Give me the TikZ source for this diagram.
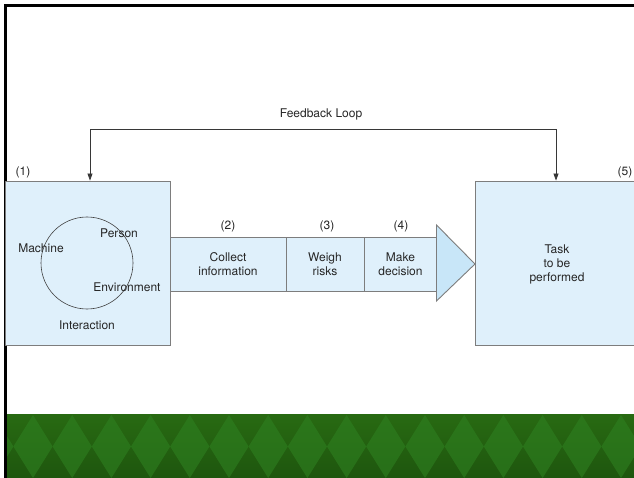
\documentclass[tikz,border=0pt]{standalone}
\usepackage{fontspec}
\setmainfont{TeX Gyre Heros}
\usetikzlibrary{arrows.meta}
\definecolor{boxblue}{RGB}{223,240,251}
\definecolor{tipblue}{RGB}{200,230,248}
\definecolor{edgegray}{RGB}{125,125,125}
\definecolor{linegray}{RGB}{55,55,55}
\definecolor{bandtop}{RGB}{40,106,18}
\definecolor{bandbot}{RGB}{30,86,14}
\definecolor{diamondgreen}{RGB}{46,128,32}
\begin{document}
\begin{tikzpicture}[x=1pt,y=-1pt,
  txt/.style={font=\fontsize{12}{14}\selectfont, text=black!85, inner sep=0pt, align=center},
  bigbox/.style={draw=edgegray, fill=boxblue, line width=0.9pt, rectangle, inner sep=0pt},
  stagebox/.style={draw=edgegray, fill=boxblue, line width=0.9pt, rectangle, inner sep=0pt,
    minimum height=54pt, font=\fontsize{12}{14}\selectfont, text=black!85, align=center},
  fbline/.style={draw=linegray, line width=0.7pt, {Triangle[length=7pt,width=5pt]}-{Triangle[length=7pt,width=5pt]}}]

\useasboundingbox (0,0) rectangle (634,478);
\fill[white] (0,0) rectangle (634,478);

% green band with diamond pattern
\shade[top color=bandtop, bottom color=bandbot] (7,414) rectangle (634,478);
\begin{scope}
  \clip (7,414) rectangle (634,478);
  \foreach \k in {-1,...,16}
    \fill[diamondgreen, opacity=0.6]
      ({33+39.2*\k},415) -- ({52.6+39.2*\k},446.5) -- ({33+39.2*\k},478) -- ({13.4+39.2*\k},446.5) -- cycle;
\end{scope}

% frame
\draw[line width=3pt] (5.5,478) -- (5.5,5.5) -- (634,5.5);

% interaction box
\node[bigbox, minimum width=165pt, minimum height=164pt] (env) at (88,263) {};
\node[draw=black!75, line width=0.6pt, circle, minimum size=92pt, inner sep=0pt] (ring) at (87,263) {};
\node[txt] (machine) at (41,248) {Machine};
\node[txt] (person) at (119,233) {Person};
\node[txt] (environment) at (127,287) {Environment};
\node[txt] (interaction) at (87,325) {Interaction};
\node[txt] (n1) at (23,172) {(1)};

% task box, running past the right edge
\node[bigbox, minimum width=166pt, minimum height=164pt] (task) at (558,263) {};
\node[txt] (tasktext) at (557,264) {Task\\to be\\performed};
\node[txt] (n5) at (625,172) {(5)};

% stages
\node[stagebox, minimum width=116pt] (collect) at (228,264) {Collect\\information};
\node[stagebox, minimum width=78pt] (weigh) at (325,264) {Weigh\\risks};
\node[stagebox, minimum width=73pt] (decide) at (400.5,264) {Make\\decision};
\draw[edgegray, line width=0.9pt, fill=tipblue, line join=miter] (436.5,225) -- (475,264) -- (436.5,301) -- cycle;
\node[txt] (n2) at (228,226) {(2)};
\node[txt] (n3) at (327,226) {(3)};
\node[txt] (n4) at (401,226) {(4)};

% feedback loop
\coordinate (fbl) at (90,129);
\coordinate (fbr) at (556,129);
\draw[fbline] (env.north -| fbl) -- (fbl) -- (fbr) -- (fbr |- task.north);
\node[txt] (fbtext) at (321,114) {Feedback Loop};
\end{tikzpicture}
\end{document}
